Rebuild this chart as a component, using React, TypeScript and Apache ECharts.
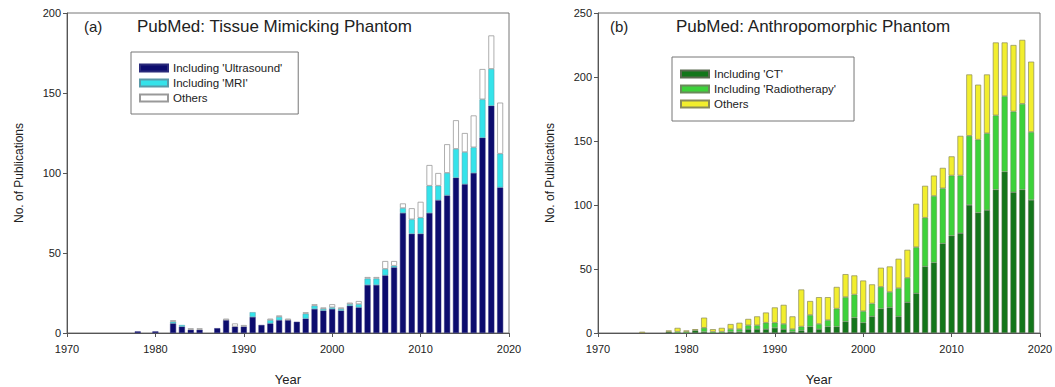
import React, { useEffect, useRef } from "react";
import * as echarts from "echarts";

// Panel (a): PubMed – Tissue Mimicking Phantom
const yearsA = [1978, 1980, 1982, 1983, 1984, 1985, 1987, 1988, 1989, 1990, 1991, 1992, 1993, 1994, 1995, 1996, 1997, 1998, 1999, 2000, 2001, 2002, 2003, 2004, 2005, 2006, 2007, 2008, 2009, 2010, 2011, 2012, 2013, 2014, 2015, 2016, 2017, 2018, 2019];
const ultrasound = [1, 1, 6, 4, 2, 2, 3, 8, 4, 4, 10, 5, 6, 8, 8, 7, 9, 15, 14, 15, 14, 17, 16, 30, 30, 36, 41, 75, 62, 62, 75, 83, 86, 97, 93, 100, 122, 142, 91];
const mri = [0, 0, 1, 1, 0, 0, 0, 0, 0, 0, 3, 0, 2, 2, 0, 0, 3, 2, 1, 1, 1, 1, 2, 4, 4, 4, 1, 3, 9, 10, 17, 9, 14, 18, 20, 16, 24, 23, 21];
const othersA = [0, 0, 1, 0, 1, 1, 0, 1, 2, 1, 0, 0, 1, 1, 1, 0, 1, 1, 1, 2, 1, 1, 2, 1, 1, 5, 3, 3, 7, 10, 13, 8, 18, 18, 12, 20, 19, 21, 32];

// Panel (b): PubMed – Anthropomorphic Phantom
const yearsB = [1975, 1978, 1979, 1980, 1981, 1982, 1983, 1984, 1985, 1986, 1987, 1988, 1989, 1990, 1991, 1992, 1993, 1994, 1995, 1996, 1997, 1998, 1999, 2000, 2001, 2002, 2003, 2004, 2005, 2006, 2007, 2008, 2009, 2010, 2011, 2012, 2013, 2014, 2015, 2016, 2017, 2018, 2019];
const ct = [0, 1, 0, 0, 2, 1, 0, 0, 1, 1, 3, 3, 3, 4, 3, 1, 2, 5, 3, 5, 5, 9, 12, 8, 13, 19, 20, 13, 24, 31, 52, 55, 70, 76, 78, 100, 94, 96, 112, 126, 110, 112, 104];
const radiotherapy = [0, 0, 1, 1, 0, 3, 1, 1, 2, 2, 3, 3, 5, 4, 4, 2, 3, 9, 4, 5, 14, 19, 18, 9, 10, 17, 12, 22, 19, 36, 38, 52, 43, 47, 45, 54, 57, 60, 58, 59, 63, 67, 53];
const othersB = [1, 1, 3, 1, 1, 8, 2, 3, 4, 5, 5, 7, 8, 12, 15, 10, 29, 11, 21, 18, 17, 18, 15, 24, 15, 15, 20, 23, 22, 34, 25, 16, 16, 15, 31, 48, 43, 46, 57, 42, 52, 50, 55];

const xTicks = [1970, 1980, 1990, 2000, 2010, 2020];

const FONT = "Liberation Sans, Arial, sans-serif";
const TXT = "#222";
const AX = "#555";

// category slots for every year on the axis span (bars centred on each year)
const yearSlots: string[] = [];
for (let y = xTicks[0]; y <= xTicks[xTicks.length - 1]; y++) yearSlots.push(String(y));

const onSlots = (years: number[], vals: number[]) =>
  yearSlots.map((s) => {
    const i = years.indexOf(Number(s));
    return i >= 0 && vals[i] > 0 ? vals[i] : null;
  });

function catAxis(gridIndex: number) {
  return {
    type: "category",
    gridIndex,
    position: "bottom",
    data: yearSlots,
    boundaryGap: false,
    axisLine: { show: false },
    axisTick: { show: false },
    axisLabel: { show: false },
    splitLine: { show: false },
  };
}

function xAxisDef(gridIndex: number) {
  return {
    type: "value",
    gridIndex,
    position: "bottom",
    min: xTicks[0],
    max: xTicks[xTicks.length - 1],
    interval: 10,
    name: "Year",
    nameLocation: "middle",
    nameGap: 40,
    nameTextStyle: { fontFamily: FONT, fontSize: 13, color: TXT },
    axisLine: { show: true, onZero: false, lineStyle: { color: AX, width: 1 } },
    axisTick: { show: true, length: 4, lineStyle: { color: AX } },
    axisLabel: { fontFamily: FONT, fontSize: 11, color: TXT, margin: 10, formatter: (v: number) => String(v) },
    splitLine: { show: false },
  };
}

function yAxisDef(gridIndex: number, max: number) {
  return {
    type: "value",
    gridIndex,
    min: 0,
    max,
    interval: 50,
    name: "No. of Publications",
    nameLocation: "middle",
    nameGap: 42,
    nameTextStyle: { fontFamily: FONT, fontSize: 12, color: TXT },
    axisLine: { show: true, lineStyle: { color: AX, width: 1 } },
    axisTick: { show: true, length: 4, lineStyle: { color: AX } },
    axisLabel: { fontFamily: FONT, fontSize: 11, color: TXT, margin: 6 },
    splitLine: { show: false },
  };
}

export default function App() {
  const ref = useRef<HTMLDivElement>(null);
  useEffect(() => {
    if (!ref.current) return;
    const chart = echarts.init(ref.current, null, { renderer: "svg" });
    const barW = 6;
    const legendText = { fontFamily: FONT, fontSize: 11.5, color: TXT, lineHeight: 12 };
    const option = {
      animation: false,
      backgroundColor: "#ffffff",
      grid: [
        { left: 67, top: 13, width: 442, height: 320, show: true, borderColor: "#777", borderWidth: 1, backgroundColor: "transparent", containLabel: false, outerBoundsMode: "none" },
        { left: 598, top: 13, width: 442, height: 320, show: true, borderColor: "#777", borderWidth: 1, backgroundColor: "transparent", containLabel: false, outerBoundsMode: "none" },
      ],
      xAxis: [catAxis(0), catAxis(1), xAxisDef(0), xAxisDef(1)],
      yAxis: [yAxisDef(0, 200), yAxisDef(1, 250)],
      legend: [
        {
          data: ["Including 'Ultrasound'", "Including 'MRI'", "Others "],
          orient: "vertical",
          left: 131,
          top: 52,
          itemWidth: 28,
          itemHeight: 7,
          itemGap: 3,
          itemTextGap: 6,
          padding: [10, 16, 10, 8],
          borderColor: "#777",
          borderWidth: 1,
          icon: "rect",
          textStyle: legendText,
        },
        {
          data: ["Including 'CT'", "Including 'Radiotherapy'", "Others"],
          orient: "vertical",
          left: 672,
          top: 57,
          itemWidth: 28,
          itemHeight: 7,
          itemGap: 3,
          itemTextGap: 6,
          padding: [11, 18, 11, 8],
          borderColor: "#777",
          borderWidth: 1,
          icon: "rect",
          textStyle: legendText,
        },
      ],
      graphic: [
        { type: "text", left: 84, top: 19, style: { text: "(a)", font: `15px ${FONT}`, fill: TXT } },
        { type: "text", left: 137, top: 18, style: { text: "PubMed: Tissue Mimicking Phantom", font: `17px ${FONT}`, fill: TXT } },
        { type: "text", left: 610, top: 19, style: { text: "(b)", font: `15px ${FONT}`, fill: TXT } },
        { type: "text", left: 676, top: 18, style: { text: "PubMed: Anthropomorphic Phantom", font: `17px ${FONT}`, fill: TXT } },
      ],
      series: [
        {
          name: "Including 'Ultrasound'", type: "bar", xAxisIndex: 0, yAxisIndex: 0, stack: "a", barWidth: barW,
          itemStyle: { color: "#0c0c6e", borderColor: "#2a2a7a", borderWidth: 0.5 },
          data: onSlots(yearsA, ultrasound),
        },
        {
          name: "Including 'MRI'", type: "bar", xAxisIndex: 0, yAxisIndex: 0, stack: "a", barWidth: barW,
          itemStyle: { color: "#35e3ea", borderColor: "#5a9aa8", borderWidth: 0.5 },
          data: onSlots(yearsA, mri),
        },
        {
          name: "Others ", type: "bar", xAxisIndex: 0, yAxisIndex: 0, stack: "a", barWidth: barW,
          itemStyle: { color: "#ffffff", borderColor: "#999999", borderWidth: 0.8 },
          data: onSlots(yearsA, othersA),
        },
        {
          name: "Including 'CT'", type: "bar", xAxisIndex: 1, yAxisIndex: 1, stack: "b", barWidth: barW,
          itemStyle: { color: "#13761a", borderColor: "#5a6a50", borderWidth: 0.5 },
          data: onSlots(yearsB, ct),
        },
        {
          name: "Including 'Radiotherapy'", type: "bar", xAxisIndex: 1, yAxisIndex: 1, stack: "b", barWidth: barW,
          itemStyle: { color: "#3dd23a", borderColor: "#6a8a5a", borderWidth: 0.5 },
          data: onSlots(yearsB, radiotherapy),
        },
        {
          name: "Others", type: "bar", xAxisIndex: 1, yAxisIndex: 1, stack: "b", barWidth: barW,
          itemStyle: { color: "#f2ee2e", borderColor: "#8a8a5a", borderWidth: 0.7 },
          data: onSlots(yearsB, othersB),
        },
      ],
    };
    chart.setOption(option as any);
    return () => chart.dispose();
  }, []);
  return <div ref={ref} style={{ position: "fixed", left: 0, top: 0, width: 1055, height: 387 }} />;
}
